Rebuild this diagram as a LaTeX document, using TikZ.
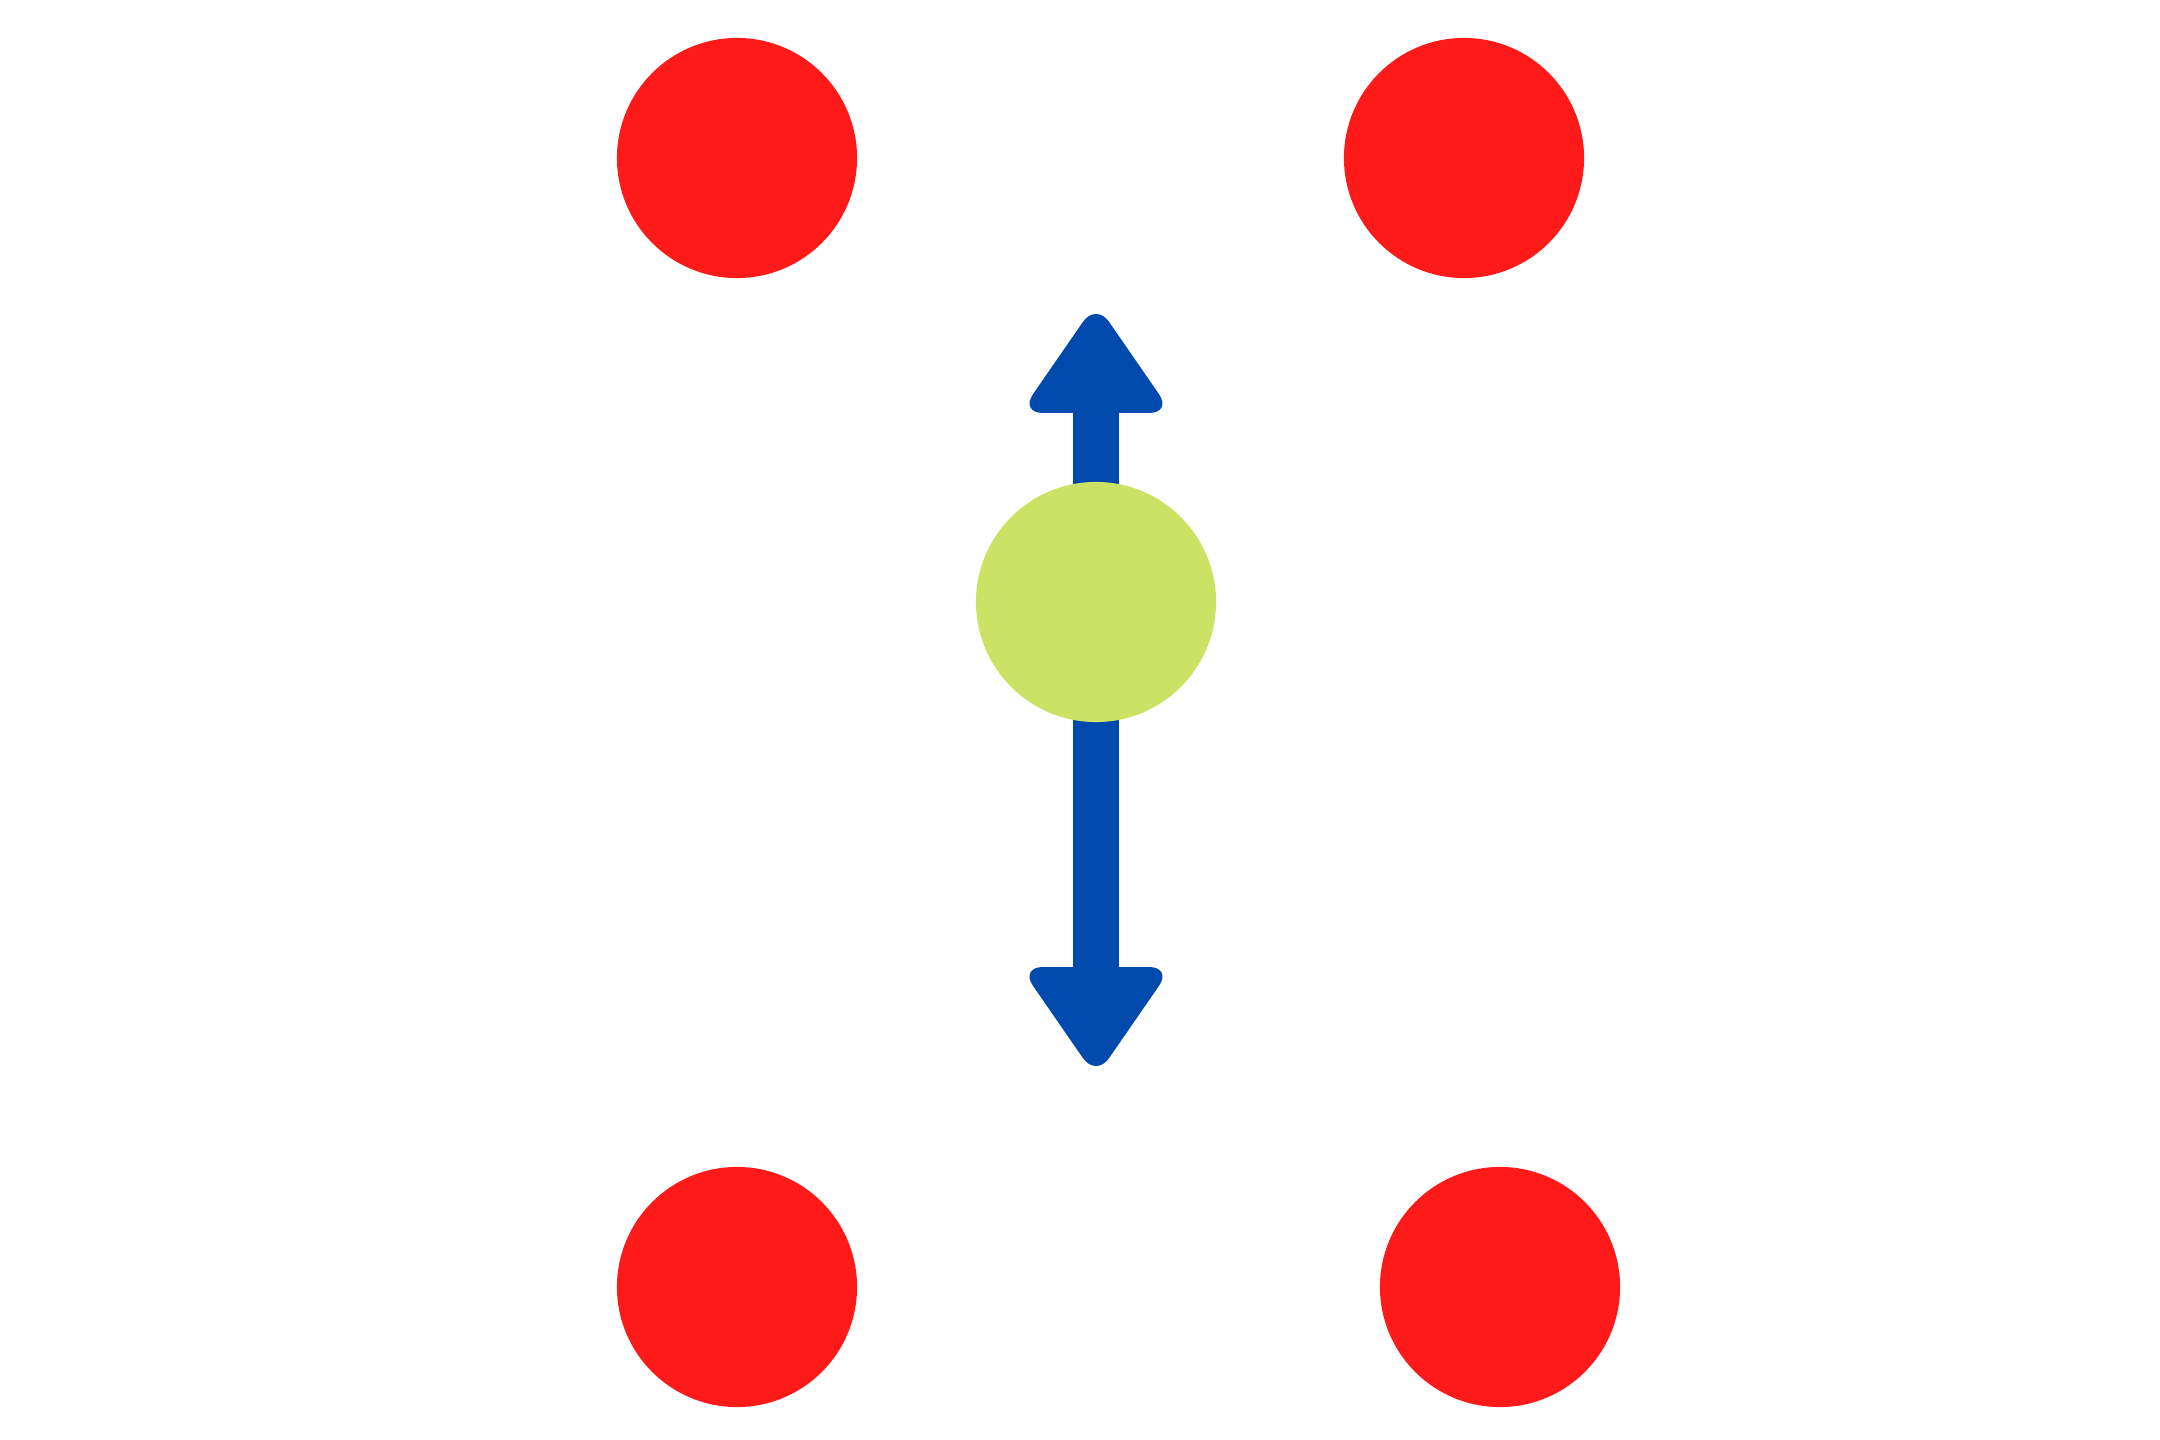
\documentclass[tikz,border=0pt]{standalone}
\usepackage{tikz}

\definecolor{dotred}{HTML}{FF1A1A}
\definecolor{arrowblue}{HTML}{004AAD}
\definecolor{ballgreen}{HTML}{CBE265}

\begin{document}
\begin{tikzpicture}[x=0.01cm, y=-0.01cm,
    dot/.style={circle, minimum size=2.4cm, inner sep=0pt, fill=dotred},
    ball/.style={circle, minimum size=2.4cm, inner sep=0pt, fill=ballgreen},
    tip/.style={fill=arrowblue, rounded corners=6.5pt}]
  \useasboundingbox (0,0) rectangle (2160,1440);

  \node[dot] (redtl) at (737,158) {};
  \node[dot] (redtr) at (1464,158) {};
  \node[dot] (redbl) at (737,1287) {};
  \node[dot] (redbr) at (1500,1287) {};

  % up/down arrow behind the ball
  \coordinate (up) at (1096,315);
  \coordinate (down) at (1096,1065);
  \fill[arrowblue] (up) ++(-23,90) rectangle ++(46,570);
  \fill[tip] (up) ++(0,-12) -- ++(76,110) -- ++(-152,0) -- cycle;
  \fill[tip] (down) ++(0,12) -- ++(76,-110) -- ++(-152,0) -- cycle;

  \node[ball] (ball) at (1096,602) {};
\end{tikzpicture}
\end{document}
